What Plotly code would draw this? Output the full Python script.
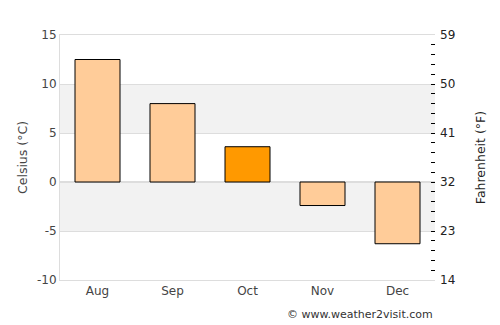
import plotly.graph_objects as go

months = ["Aug", "Sep", "Oct", "Nov", "Dec"]
celsius = [12.5, 8.0, 3.6, -2.4, -6.3]
bar_colors = ["#FFCC99", "#FFCC99", "#FF9900", "#FFCC99", "#FFCC99"]
c_ticks = [-10, -5, 0, 5, 10, 15]
f_ticks = [14, 23, 32, 41, 50, 59]
bands = [(5, 10), (-5, 0)]

FONT = "DejaVu Sans"

fig = go.Figure()
fig.add_trace(go.Bar(
    x=months, y=celsius, width=0.6,
    marker=dict(color=bar_colors, line=dict(color="black", width=1)),
    hoverinfo="x+y", showlegend=False,
))
fig.add_trace(go.Scatter(
    x=months, y=[c * 9 / 5 + 32 for c in celsius], yaxis="y2",
    mode="markers", marker=dict(opacity=0), showlegend=False, hoverinfo="skip",
))

for lo, hi in bands:
    fig.add_shape(type="rect", xref="paper", yref="y", x0=0, x1=1, y0=lo, y1=hi,
                  fillcolor="#F2F2F2", line=dict(width=0), layer="below")

fig.update_layout(
    width=500, height=325,
    margin=dict(l=60, r=65, t=35, b=45),
    paper_bgcolor="white", plot_bgcolor="white",
    font=dict(family=FONT, size=12, color="#444"),
    bargap=0.4,
    xaxis=dict(showgrid=False, showline=True, linecolor="#DDDDDD", mirror=True,
               ticks="", tickfont=dict(size=12, color="#444")),
    yaxis=dict(range=[-10, 15], tickvals=c_ticks, ticktext=[str(v) for v in c_ticks],
               showgrid=True, gridcolor="#DDDDDD", zeroline=True, zerolinecolor="#DDDDDD",
               showline=True, linecolor="#DDDDDD", ticks="",
               title=dict(text="Celsius (°C)", font=dict(size=12.5, color="#444"), standoff=6),
               tickfont=dict(size=12, color="#444")),
    yaxis2=dict(range=[14, 59], overlaying="y", side="right", tickvals=f_ticks,
                ticktext=[str(v) for v in f_ticks], showgrid=False, zeroline=False,
                showline=False, ticks="inside", ticklen=4, tickcolor="black", tickwidth=1,
                ticklabelstandoff=4,
                minor=dict(dtick=1.8, tick0=14, ticks="inside", ticklen=4,
                           tickcolor="black", tickwidth=1, showgrid=False),
                title=dict(text="Fahrenheit (°F)", font=dict(size=12.5, color="#222"), standoff=21),
                tickfont=dict(size=12, color="#222")),
    annotations=[dict(text="© www.weather2visit.com", xref="paper", yref="paper",
                      x=1, y=-0.105, xanchor="right", yanchor="top", showarrow=False,
                      font=dict(size=11, color="#333"))],
)

fig.write_html("out.html")
